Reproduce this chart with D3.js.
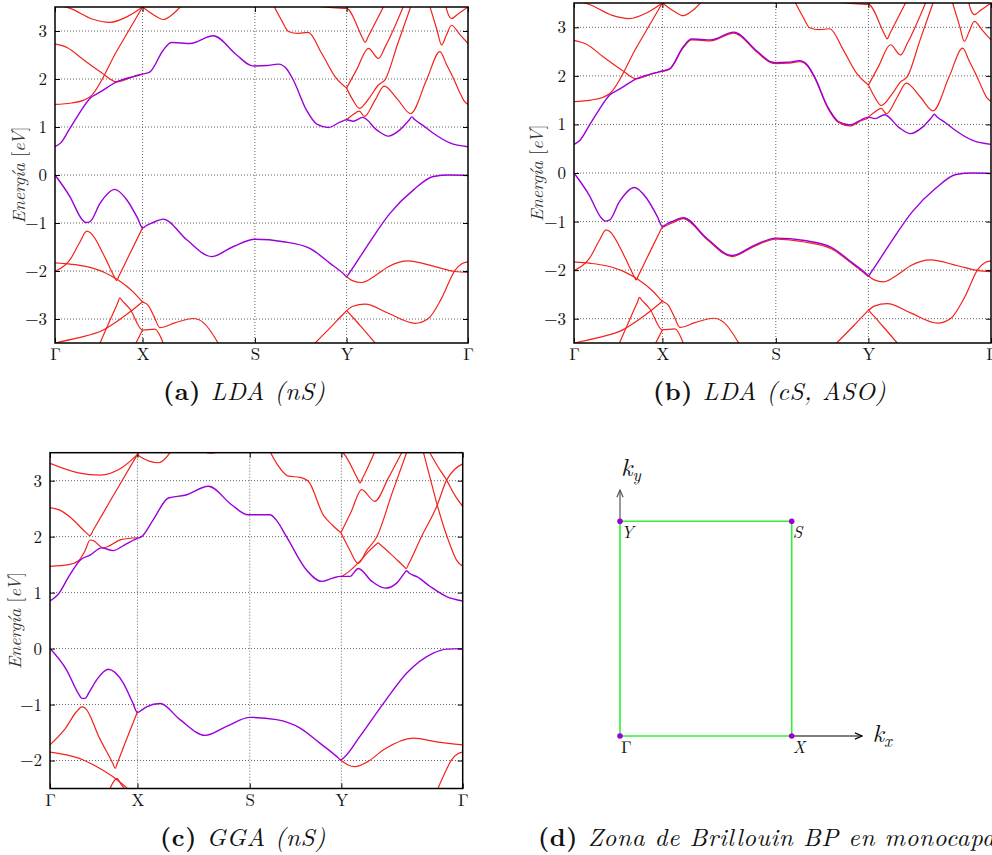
<!DOCTYPE html>
<html><head><meta charset="utf-8">
<script src="https://cdn.jsdelivr.net/npm/d3@7"></script>
<style>body{margin:0;background:#fff} svg{display:block}</style>
</head><body>
<svg id="c" width="992" height="855"></svg>
<script>
// ---------- axis data ----------
const kTicks = [0, 0.212, 0.484, 0.706, 1];
const kLabels = ["Γ", "X", "S", "Y", "Γ"];
const eTicksLDA = [-3, -2, -1, 0, 1, 2, 3];
const eTicksGGA = [-2, -1, 0, 1, 2, 3];
const eDomainLDA = [-3.5, 3.5];
const eDomainGGA = [-2.5, 3.5];

// ---------- (a) LDA (nS) : [k, E] ----------
const condA = [[0,0.59],[0.015,0.68],[0.036,0.97],[0.06,1.30],[0.085,1.60],[0.11,1.73],[0.149,1.94],[0.19,2.05],[0.212,2.10],[0.23,2.15],[0.262,2.60],[0.282,2.76],[0.305,2.75],[0.327,2.74],[0.383,2.90],[0.44,2.50],[0.472,2.29],[0.484,2.27],[0.513,2.28],[0.541,2.31],[0.56,2.22],[0.577,1.98],[0.609,1.35],[0.634,1.06],[0.662,0.99],[0.69,1.10],[0.706,1.15],[0.722,1.12],[0.745,1.20],[0.779,0.94],[0.807,0.81],[0.835,0.94],[0.858,1.15],[0.864,1.21],[0.870,1.16],[0.89,1.04],[0.916,0.87],[0.956,0.67],[1,0.59]];
const valA = [[0,0],[0.036,-0.45],[0.065,-0.92],[0.075,-0.99],[0.085,-0.97],[0.109,-0.59],[0.145,-0.30],[0.174,-0.52],[0.20,-0.90],[0.212,-1.10],[0.222,-1.05],[0.235,-1.00],[0.262,-0.92],[0.319,-1.35],[0.379,-1.70],[0.432,-1.49],[0.484,-1.34],[0.553,-1.39],[0.617,-1.53],[0.666,-1.84],[0.70,-2.07],[0.706,-2.12],[0.712,-2.05],[0.755,-1.49],[0.811,-0.80],[0.868,-0.31],[0.916,-0.03],[0.956,0],[1,-0.01]];
const rA1 = [[0,1.47],[0.04,1.50],[0.07,1.56],[0.085,1.63],[0.15,2.59],[0.212,3.5]];
const rA2 = [[0,2.73],[0.03,2.65],[0.069,2.40],[0.113,2.13],[0.149,1.94],[0.19,2.05],[0.212,2.10]];
const rA3 = [[0.212,3.5],[0.24,3.33],[0.262,3.24],[0.285,3.35],[0.303,3.5]];
const rA4 = [[0,3.56],[0.04,3.46],[0.09,3.25],[0.133,3.18],[0.175,3.30],[0.212,3.5]];
const rA5 = [[0.53,3.52],[0.55,3.2],[0.565,2.99],[0.589,2.95],[0.613,2.97],[0.646,2.53],[0.678,2.05],[0.706,1.81]];
const rA6 = [[0.63,3.52],[0.68,3.48],[0.706,3.47],[0.745,2.85],[0.751,2.76],[0.757,2.86],[0.795,3.5]];
const rA7 = [[0.706,1.81],[0.73,2.19],[0.759,2.64],[0.783,2.43],[0.80,2.68],[0.843,3.5]];
const rA8 = [[0.706,1.81],[0.72,1.58],[0.737,1.39],[0.763,1.63],[0.783,1.875],[0.799,1.98],[0.83,2.74],[0.861,3.5]];
const rA9 = [[0.706,1.15],[0.722,1.26],[0.737,1.33],[0.749,1.22],[0.775,1.56],[0.797,1.85],[0.83,1.57],[0.861,1.28],[0.90,1.99],[0.932,2.57],[0.948,2.30],[0.965,2.01],[0.98,1.72],[0.99,1.55],[1,1.47]];
const rA10 = [[0.908,3.5],[0.925,3.02],[0.936,2.71],[0.948,2.92],[0.960,3.12],[0.98,2.93],[1,2.74]];
const rA11 = [[0.945,3.55],[0.953,3.33],[0.960,3.26],[0.975,3.35],[1,3.5]];
const rA12 = [[0,-2.01],[0.036,-1.77],[0.06,-1.40],[0.077,-1.17],[0.085,-1.20],[0.12,-1.70],[0.143,-2.11],[0.149,-2.20],[0.155,-2.10],[0.18,-1.66],[0.212,-1.10]];
const rA13 = [[0,-1.83],[0.04,-1.86],[0.077,-1.91],[0.12,-2.03],[0.153,-2.19],[0.19,-2.44],[0.212,-2.64],[0.226,-2.72],[0.24,-2.95],[0.254,-3.18],[0.29,-3.08],[0.335,-2.99],[0.36,-3.08],[0.395,-3.5]];
const rA14 = [[0,-3.5],[0.052,-3.40],[0.117,-3.23],[0.15,-3.05],[0.182,-2.85],[0.212,-2.64]];
const rA15 = [[0.109,-3.5],[0.135,-2.99],[0.152,-2.66],[0.157,-2.56],[0.162,-2.61],[0.182,-2.80],[0.212,-3.23],[0.242,-3.21],[0.262,-3.5]];
const rA16 = [[0.196,-3.5],[0.212,-3.23]];
const rA17 = [[0.706,-2.12],[0.72,-2.2],[0.743,-2.24],[0.775,-2.10],[0.807,-1.91],[0.855,-1.79],[0.92,-1.91],[0.969,-2.01],[1,-2.03]];
const rA18 = [[0.706,-2.83],[0.72,-2.74],[0.751,-2.69],[0.807,-2.88],[0.872,-3.09],[0.904,-2.99],[0.936,-2.57],[0.969,-1.98],[0.985,-1.85],[1,-1.81]];
const rA19 = [[0.63,-3.5],[0.67,-3.15],[0.70,-2.88],[0.706,-2.83],[0.712,-2.88],[0.74,-3.15],[0.775,-3.5]];

// ---------- (b) LDA (cS, ASO): same bands + split partners ----------
const socB1 = [[0.212,-1.12],[0.235,-1.03],[0.262,-0.94],[0.319,-1.37],[0.379,-1.72],[0.432,-1.51],[0.484,-1.36],[0.553,-1.42],[0.617,-1.56],[0.666,-1.86],[0.70,-2.09],[0.706,-2.13]];
const socB2 = [[0.212,2.09],[0.23,2.14],[0.262,2.58],[0.282,2.74],[0.305,2.73],[0.327,2.72],[0.383,2.88],[0.44,2.48],[0.472,2.27],[0.484,2.25],[0.513,2.26],[0.541,2.29],[0.56,2.20],[0.577,1.96],[0.609,1.33],[0.634,1.04],[0.662,0.97],[0.69,1.08],[0.706,1.13]];

// ---------- (c) GGA (nS) ----------
const condC = [[0,0.85],[0.02,0.97],[0.045,1.28],[0.073,1.58],[0.097,1.67],[0.125,1.80],[0.153,1.75],[0.18,1.85],[0.206,1.95],[0.212,1.97],[0.222,2.0],[0.25,2.3],[0.287,2.69],[0.327,2.74],[0.384,2.90],[0.44,2.57],[0.48,2.39],[0.505,2.39],[0.533,2.39],[0.548,2.30],[0.573,2.0],[0.622,1.40],[0.658,1.20],[0.685,1.26],[0.703,1.29],[0.727,1.29],[0.747,1.43],[0.78,1.20],[0.812,1.08],[0.84,1.17],[0.858,1.34],[0.864,1.39],[0.870,1.35],[0.89,1.28],[0.921,1.11],[0.961,0.93],[1,0.85]];
const valC = [[0,0],[0.04,-0.38],[0.07,-0.82],[0.077,-0.89],[0.085,-0.89],[0.095,-0.78],[0.113,-0.56],[0.141,-0.37],[0.178,-0.62],[0.20,-0.96],[0.212,-1.14],[0.222,-1.10],[0.234,-1.04],[0.267,-0.98],[0.315,-1.27],[0.376,-1.55],[0.428,-1.39],[0.485,-1.23],[0.549,-1.27],[0.606,-1.42],[0.654,-1.69],[0.698,-1.95],[0.704,-1.99],[0.712,-1.95],[0.751,-1.57],[0.808,-0.98],[0.864,-0.44],[0.929,-0.08],[0.961,-0.01],[1,0]];
const rC1 = [[0,1.47],[0.045,1.50],[0.069,1.57],[0.085,1.75],[0.097,1.94],[0.105,1.93],[0.129,1.80],[0.174,1.95],[0.212,1.98]];
const rC2 = [[0,2.52],[0.025,2.47],[0.052,2.33],[0.085,2.09],[0.097,2.02],[0.105,2.12],[0.15,2.69],[0.212,3.47]];
const rC3 = [[0,3.31],[0.069,3.14],[0.121,3.10],[0.174,3.23],[0.212,3.47]];
const rC4 = [[0.212,3.46],[0.24,3.35],[0.263,3.32],[0.28,3.40],[0.291,3.5]];
const rC5 = [[0.37,3.53],[0.39,3.49],[0.41,3.53]];
const rC6 = [[0.533,3.52],[0.55,3.3],[0.578,3.08],[0.606,3.06],[0.626,2.99],[0.662,2.39],[0.685,2.2],[0.705,2.07]];
const rC7 = [[0.705,2.07],[0.73,2.45],[0.755,2.84],[0.787,2.63],[0.82,3.05],[0.852,3.5]];
const rC8 = [[0.70,3.55],[0.711,3.49],[0.745,3.04],[0.751,2.96],[0.757,3.04],[0.787,3.52]];
const rC9 = [[0.705,2.07],[0.725,1.78],[0.747,1.52],[0.767,1.75],[0.792,2.0],[0.83,2.8],[0.864,3.5]];
const rC10 = [[0.705,1.28],[0.725,1.38],[0.747,1.53],[0.77,1.72],[0.79,1.86],[0.795,1.89],[0.80,1.86],[0.83,1.66],[0.857,1.47],[0.863,1.43],[0.869,1.51],[0.90,2.0],[0.937,2.54],[0.961,3.01],[0.98,3.2],[1,3.30]];
const rC11 = [[0.905,3.5],[0.921,3.05],[0.937,2.60],[0.953,2.2],[0.969,1.86],[0.985,1.58],[1,1.47]];
const rC12 = [[0.921,3.49],[0.94,3.25],[0.961,3.01],[0.98,2.75],[1,2.54]];
const rC13 = [[0,-1.72],[0.035,-1.45],[0.065,-1.12],[0.077,-1.04],[0.085,-1.06],[0.12,-1.60],[0.152,-2.05],[0.158,-2.14],[0.164,-2.03],[0.185,-1.63],[0.212,-1.13]];
const rC14 = [[0,-1.85],[0.04,-1.90],[0.081,-1.99],[0.12,-2.14],[0.158,-2.32],[0.186,-2.49],[0.2,-2.6]];
const rC15 = [[0.14,-2.6],[0.155,-2.37],[0.162,-2.32],[0.172,-2.42],[0.19,-2.6]];
const rC16 = [[0.704,-1.99],[0.72,-2.07],[0.739,-2.11],[0.77,-2.02],[0.81,-1.80],[0.88,-1.60],[0.94,-1.67],[1,-1.72]];
const rC17 = [[0.937,-2.55],[0.955,-2.25],[0.973,-1.99],[0.988,-1.88],[1,-1.85]];

// ---------- (d) Brillouin zone ----------
const bzNames = ["Γ", "X", "S", "Y"];
const bzKx = [0, 1, 1, 0];
const bzKy = [0, 0, 1, 1];

// ---------- drawing ----------
const redA = [rA1,rA2,rA3,rA4,rA5,rA6,rA7,rA8,rA9,rA10,rA11,rA12,rA13,rA14,rA15,rA16,rA17,rA18,rA19];
const redB = redA.concat([socB1, socB2]);
const redC = [rC1,rC2,rC3,rC4,rC5,rC6,rC7,rC8,rC9,rC10,rC11,rC12,rC13,rC14,rC15,rC16,rC17];

const svg = d3.select("#c");
const FONT = "'Latin Modern Roman','CMU Serif','Liberation Serif','DejaVu Serif',serif";
const RED = "#f2231a", PURPLE = "#9b00d9";
const fmt = d => d < 0 ? "\u2212" + Math.abs(d) : String(d);

function panel(id, box, eDomain, eTicks, reds, purples, labelX) {
  const x = d3.scaleLinear().domain([0, 1]).range([box.l, box.r]);
  const y = d3.scaleLinear().domain(eDomain).range([box.b, box.t]);
  const g = svg.append("g");
  g.append("clipPath").attr("id", "clip" + id).append("rect")
    .attr("x", box.l).attr("y", box.t).attr("width", box.r - box.l).attr("height", box.b - box.t);
  // grid
  g.selectAll("line.gy").data(eTicks).join("line").attr("class", "gy")
    .attr("x1", box.l).attr("x2", box.r).attr("y1", d => y(d)).attr("y2", d => y(d))
    .attr("stroke", "#555").attr("stroke-width", 0.9).attr("stroke-dasharray", "1,2");
  g.selectAll("line.gx").data(kTicks.slice(1, -1)).join("line").attr("class", "gx")
    .attr("x1", d => x(d)).attr("x2", d => x(d)).attr("y1", box.t).attr("y2", box.b)
    .attr("stroke", "#555").attr("stroke-width", 0.9).attr("stroke-dasharray", "1,2");
  const line = d3.line().x(d => x(d[0])).y(d => y(d[1])).curve(d3.curveMonotoneX);
  const bands = g.append("g").attr("clip-path", `url(#clip${id})`);
  bands.selectAll("path.r").data(reds).join("path").attr("class", "r")
    .attr("d", line).attr("fill", "none").attr("stroke", RED).attr("stroke-width", 1.2);
  bands.selectAll("path.p").data(purples).join("path").attr("class", "p")
    .attr("d", line).attr("fill", "none").attr("stroke", PURPLE).attr("stroke-width", 1.4);
  // axes
  const ax = g.append("g");
  ax.append("g").attr("transform", `translate(${box.l},0)`)
    .call(d3.axisLeft(y).tickValues(eTicks).tickFormat(fmt).tickSizeInner(-5).tickSizeOuter(0).tickPadding(8));
  ax.append("g").attr("transform", `translate(${box.r},0)`)
    .call(d3.axisRight(y).tickValues(eTicks).tickFormat("").tickSizeInner(-5).tickSizeOuter(0));
  ax.append("g").attr("transform", `translate(0,${box.b})`)
    .call(d3.axisBottom(x).tickValues(kTicks).tickFormat((d, i) => kLabels[i]).tickSizeInner(-5).tickSizeOuter(0).tickPadding(5));
  ax.append("g").attr("transform", `translate(0,${box.t})`)
    .call(d3.axisTop(x).tickValues(kTicks).tickFormat("").tickSizeInner(-5).tickSizeOuter(0));
  ax.selectAll(".domain").remove();
  ax.selectAll("g").attr("font-family", FONT);
  ax.selectAll(".tick line").attr("stroke", "#000").attr("stroke-width", 1);
  ax.selectAll(".tick text").attr("font-family", FONT).attr("font-size", 17).attr("fill", "#111");
  // frame
  g.append("rect").attr("x", box.l).attr("y", box.t).attr("width", box.r - box.l).attr("height", box.b - box.t)
    .attr("fill", "none").attr("stroke", "#000").attr("stroke-width", 1.5);
  // y label
  const cy = (box.t + box.b) / 2;
  const t = g.append("text").attr("transform", `translate(${labelX},${cy}) rotate(-90)`)
    .attr("text-anchor", "middle").attr("font-family", FONT).attr("font-size", 18).attr("fill", "#333");
  t.append("tspan").attr("font-style", "italic").text("Energía ");
  t.append("tspan").text("[");
  t.append("tspan").attr("font-style", "italic").text("eV");
  t.append("tspan").text("]");
}

panel("a", {l: 55, r: 468, t: 7, b: 343}, eDomainLDA, eTicksLDA, redA, [condA, valA], 25);
panel("b", {l: 574, r: 991, t: 3, b: 343}, eDomainLDA, eTicksLDA, redB, [condA, valA], 543);
panel("c", {l: 50, r: 462.7, t: 452.7, b: 788.5}, eDomainGGA, eTicksGGA, redC, [condC, valC], 21);

// captions
function caption(xp, yp, tag, body) {
  const t = svg.append("text").attr("x", xp).attr("y", yp).attr("font-family", FONT).attr("font-size", 25)
    .attr("letter-spacing", 0.6).attr("fill", "#111");
  t.append("tspan").attr("font-weight", "bold").text(tag);
  t.append("tspan").attr("font-style", "italic").text(" " + body);
}
caption(163, 400, "(a)", "LDA (nS)");
caption(653, 400, "(b)", "LDA (cS, ASO)");
caption(160, 846, "(c)", "GGA (nS)");
caption(538, 846, "(d)", "Zona de Brillouin BP en monocapa");

// Brillouin zone
const sx = d3.scaleLinear().domain([0, 1]).range([620, 791.7]);
const sy = d3.scaleLinear().domain([0, 1]).range([736, 521.3]);
const defs = svg.append("defs");
["#000", "#555"].forEach((c, i) => {
  defs.append("marker").attr("id", "arr" + i).attr("viewBox", "0 0 10 10").attr("refX", 9).attr("refY", 5)
    .attr("markerWidth", 9).attr("markerHeight", 9).attr("markerUnits", "userSpaceOnUse").attr("orient", "auto")
    .append("path").attr("d", "M1,1.5 L9,5 L1,8.5").attr("fill", "none").attr("stroke", c).attr("stroke-width", 1.3);
});
const bz = svg.append("g");
bz.append("line").attr("x1", sx(1)).attr("y1", sy(0)).attr("x2", sx(1.41)).attr("y2", sy(0))
  .attr("stroke", "#000").attr("stroke-width", 1.2).attr("marker-end", "url(#arr0)");
bz.append("line").attr("x1", sx(0)).attr("y1", sy(1)).attr("x2", sx(0)).attr("y2", sy(1.146))
  .attr("stroke", "#555").attr("stroke-width", 1.2).attr("marker-end", "url(#arr1)");
const poly = bzKx.map((kx, i) => [sx(kx), sy(bzKy[i])]);
bz.append("path").attr("d", d3.line()(poly.concat([poly[0]])))
  .attr("fill", "none").attr("stroke", "#33ee33").attr("stroke-width", 1.6);
bz.selectAll("circle").data(bzNames).join("circle")
  .attr("cx", (d, i) => sx(bzKx[i])).attr("cy", (d, i) => sy(bzKy[i])).attr("r", 2.8).attr("fill", PURPLE);
bz.selectAll("text.pt").data(bzNames).join("text").attr("class", "pt")
  .attr("x", (d, i) => sx(bzKx[i]) + 1).attr("y", (d, i) => sy(bzKy[i]) + 17)
  .attr("font-family", FONT).attr("font-size", 17).attr("fill", "#111")
  .attr("font-style", d => d === "Γ" ? "normal" : "italic").text(d => d);
const ky = bz.append("text").attr("x", sx(0) + 1).attr("y", sy(1.2) - 2).attr("font-family", FONT).attr("font-size", 25).attr("font-style", "italic").attr("fill", "#111");
ky.append("tspan").text("k");
ky.append("tspan").attr("font-size", 17).attr("dy", 5).text("y");
const kx = bz.append("text").attr("x", sx(1.47)).attr("y", sy(0) + 6).attr("font-family", FONT).attr("font-size", 25).attr("font-style", "italic").attr("fill", "#111");
kx.append("tspan").text("k");
kx.append("tspan").attr("font-size", 17).attr("dy", 5).text("x");
</script>
</body></html>
